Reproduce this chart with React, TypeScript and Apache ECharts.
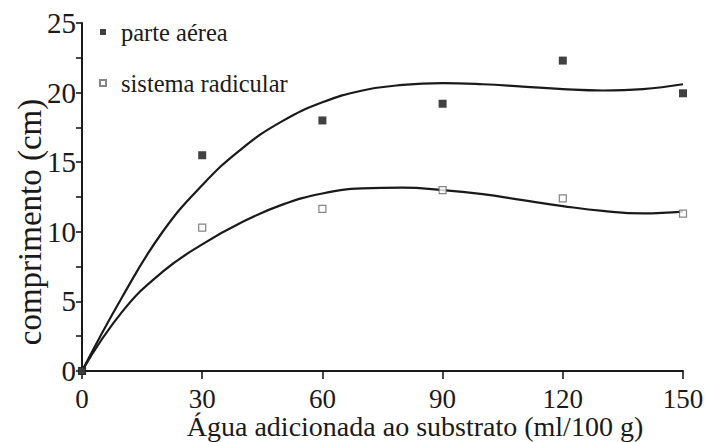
import React, { useEffect, useRef } from "react";
import * as echarts from "echarts";

// Measured points
const xValues = [0, 30, 60, 90, 120, 150];
const parteAerea = [0, 15.5, 18.0, 19.2, 22.3, 19.95];
const sistemaRadicular = [0, 10.3, 11.65, 13.0, 12.4, 11.3];

// Fitted curves, every 10 units
const curveX = [0, 10, 20, 30, 40, 50, 60, 70, 80, 90, 100, 110, 120, 130, 140, 150];
const curveAerea = [0, 5.3, 9.95, 13.35, 16.0, 17.95, 19.3, 20.15, 20.55, 20.68, 20.6, 20.43, 20.25, 20.15, 20.25, 20.6];
const curveRadicular = [0, 4.25, 7.1, 9.1, 10.7, 11.95, 12.75, 13.12, 13.17, 13.0, 12.7, 12.27, 11.85, 11.5, 11.32, 11.45];

const xTicks = { min: 0, max: 150, interval: 30 };
const yTicks = { min: 0, max: 25, interval: 5 };

const seriesNames = ["parte aérea", "sistema radicular"];
const xTitle = "Água adicionada ao substrato (ml/100 g)";
const yTitle = "comprimento (cm)";

const FONT = "Liberation Serif";
const INK = "#1a1a1a";

export default function App() {
  const ref = useRef<HTMLDivElement>(null);
  useEffect(() => {
    if (!ref.current) return;
    const chart = echarts.init(ref.current, undefined, { renderer: "svg" });
    const pairs = (xs: number[], ys: number[]) => xs.map((x, i) => [x, ys[i]]);
    chart.setOption({
      animation: false,
      backgroundColor: "#ffffff",
      textStyle: { fontFamily: FONT },
      grid: { left: 82, right: 23, top: 23, bottom: 71, containLabel: false, outerBoundsMode: "none" },
      legend: {
        orient: "vertical",
        left: 99,
        top: 18,
        padding: 0,
        itemWidth: 6,
        itemHeight: 6,
        itemGap: 23,
        data: seriesNames,
        textStyle: { fontFamily: FONT, fontSize: 24.5, color: INK, lineHeight: 28, padding: [0, 0, 0, 10] },
      },
      xAxis: {
        type: "value",
        min: xTicks.min,
        max: xTicks.max,
        interval: xTicks.interval,
        name: xTitle,
        nameLocation: "middle",
        nameGap: 43,
        nameMoveOverlap: false,
        nameTextStyle: { fontFamily: FONT, fontSize: 28, lineHeight: 24, color: INK, padding: [0, 0, 0, 65] },
        axisLine: { show: true, lineStyle: { color: INK, width: 2 } },
        axisTick: { show: true, length: 8, lineStyle: { color: INK, width: 1.6 } },
        axisLabel: { fontFamily: FONT, fontSize: 27, lineHeight: 20, color: INK, margin: 17.5 },
        splitLine: { show: false },
      },
      yAxis: {
        type: "value",
        min: yTicks.min,
        max: yTicks.max,
        interval: yTicks.interval,
        name: yTitle,
        nameLocation: "middle",
        nameGap: 36,
        nameMoveOverlap: false,
        nameTextStyle: { fontFamily: FONT, fontSize: 33, color: INK, padding: [0, 50, 0, 0] },
        axisLine: { show: true, lineStyle: { color: INK, width: 2 } },
        axisTick: { show: true, length: 6, lineStyle: { color: INK, width: 1.6 } },
        minorTick: { show: true, splitNumber: 2, length: 6, lineStyle: { color: INK, width: 1.6 } },
        axisLabel: { fontFamily: FONT, fontSize: 29, color: INK, margin: 6 },
        splitLine: { show: false },
        minorSplitLine: { show: false },
      },
      series: [
        {
          name: "curva aérea",
          type: "line",
          data: pairs(curveX, curveAerea),
          smooth: 0.45,
          showSymbol: false,
          lineStyle: { color: INK, width: 2.2 },
          itemStyle: { color: INK },
          silent: true,
          z: 2,
        },
        {
          name: "curva radicular",
          type: "line",
          data: pairs(curveX, curveRadicular),
          smooth: 0.45,
          showSymbol: false,
          lineStyle: { color: INK, width: 2.2 },
          itemStyle: { color: INK },
          silent: true,
          z: 2,
        },
        {
          name: seriesNames[1],
          type: "scatter",
          symbol: "rect",
          symbolSize: 7,
          clip: false,
          data: pairs(xValues, sistemaRadicular),
          itemStyle: { color: "#ffffff", borderColor: "#666666", borderWidth: 1.2 },
          z: 3,
        },
        {
          name: seriesNames[0],
          type: "scatter",
          symbol: "rect",
          symbolSize: 8,
          clip: false,
          data: pairs(xValues, parteAerea),
          itemStyle: { color: "#111111" },
          z: 4,
        },
      ],
    });
    return () => chart.dispose();
  }, []);
  return (
    <div
      ref={ref}
      style={{ position: "absolute", left: 0, top: 0, width: 706, height: 442 }}
    />
  );
}
